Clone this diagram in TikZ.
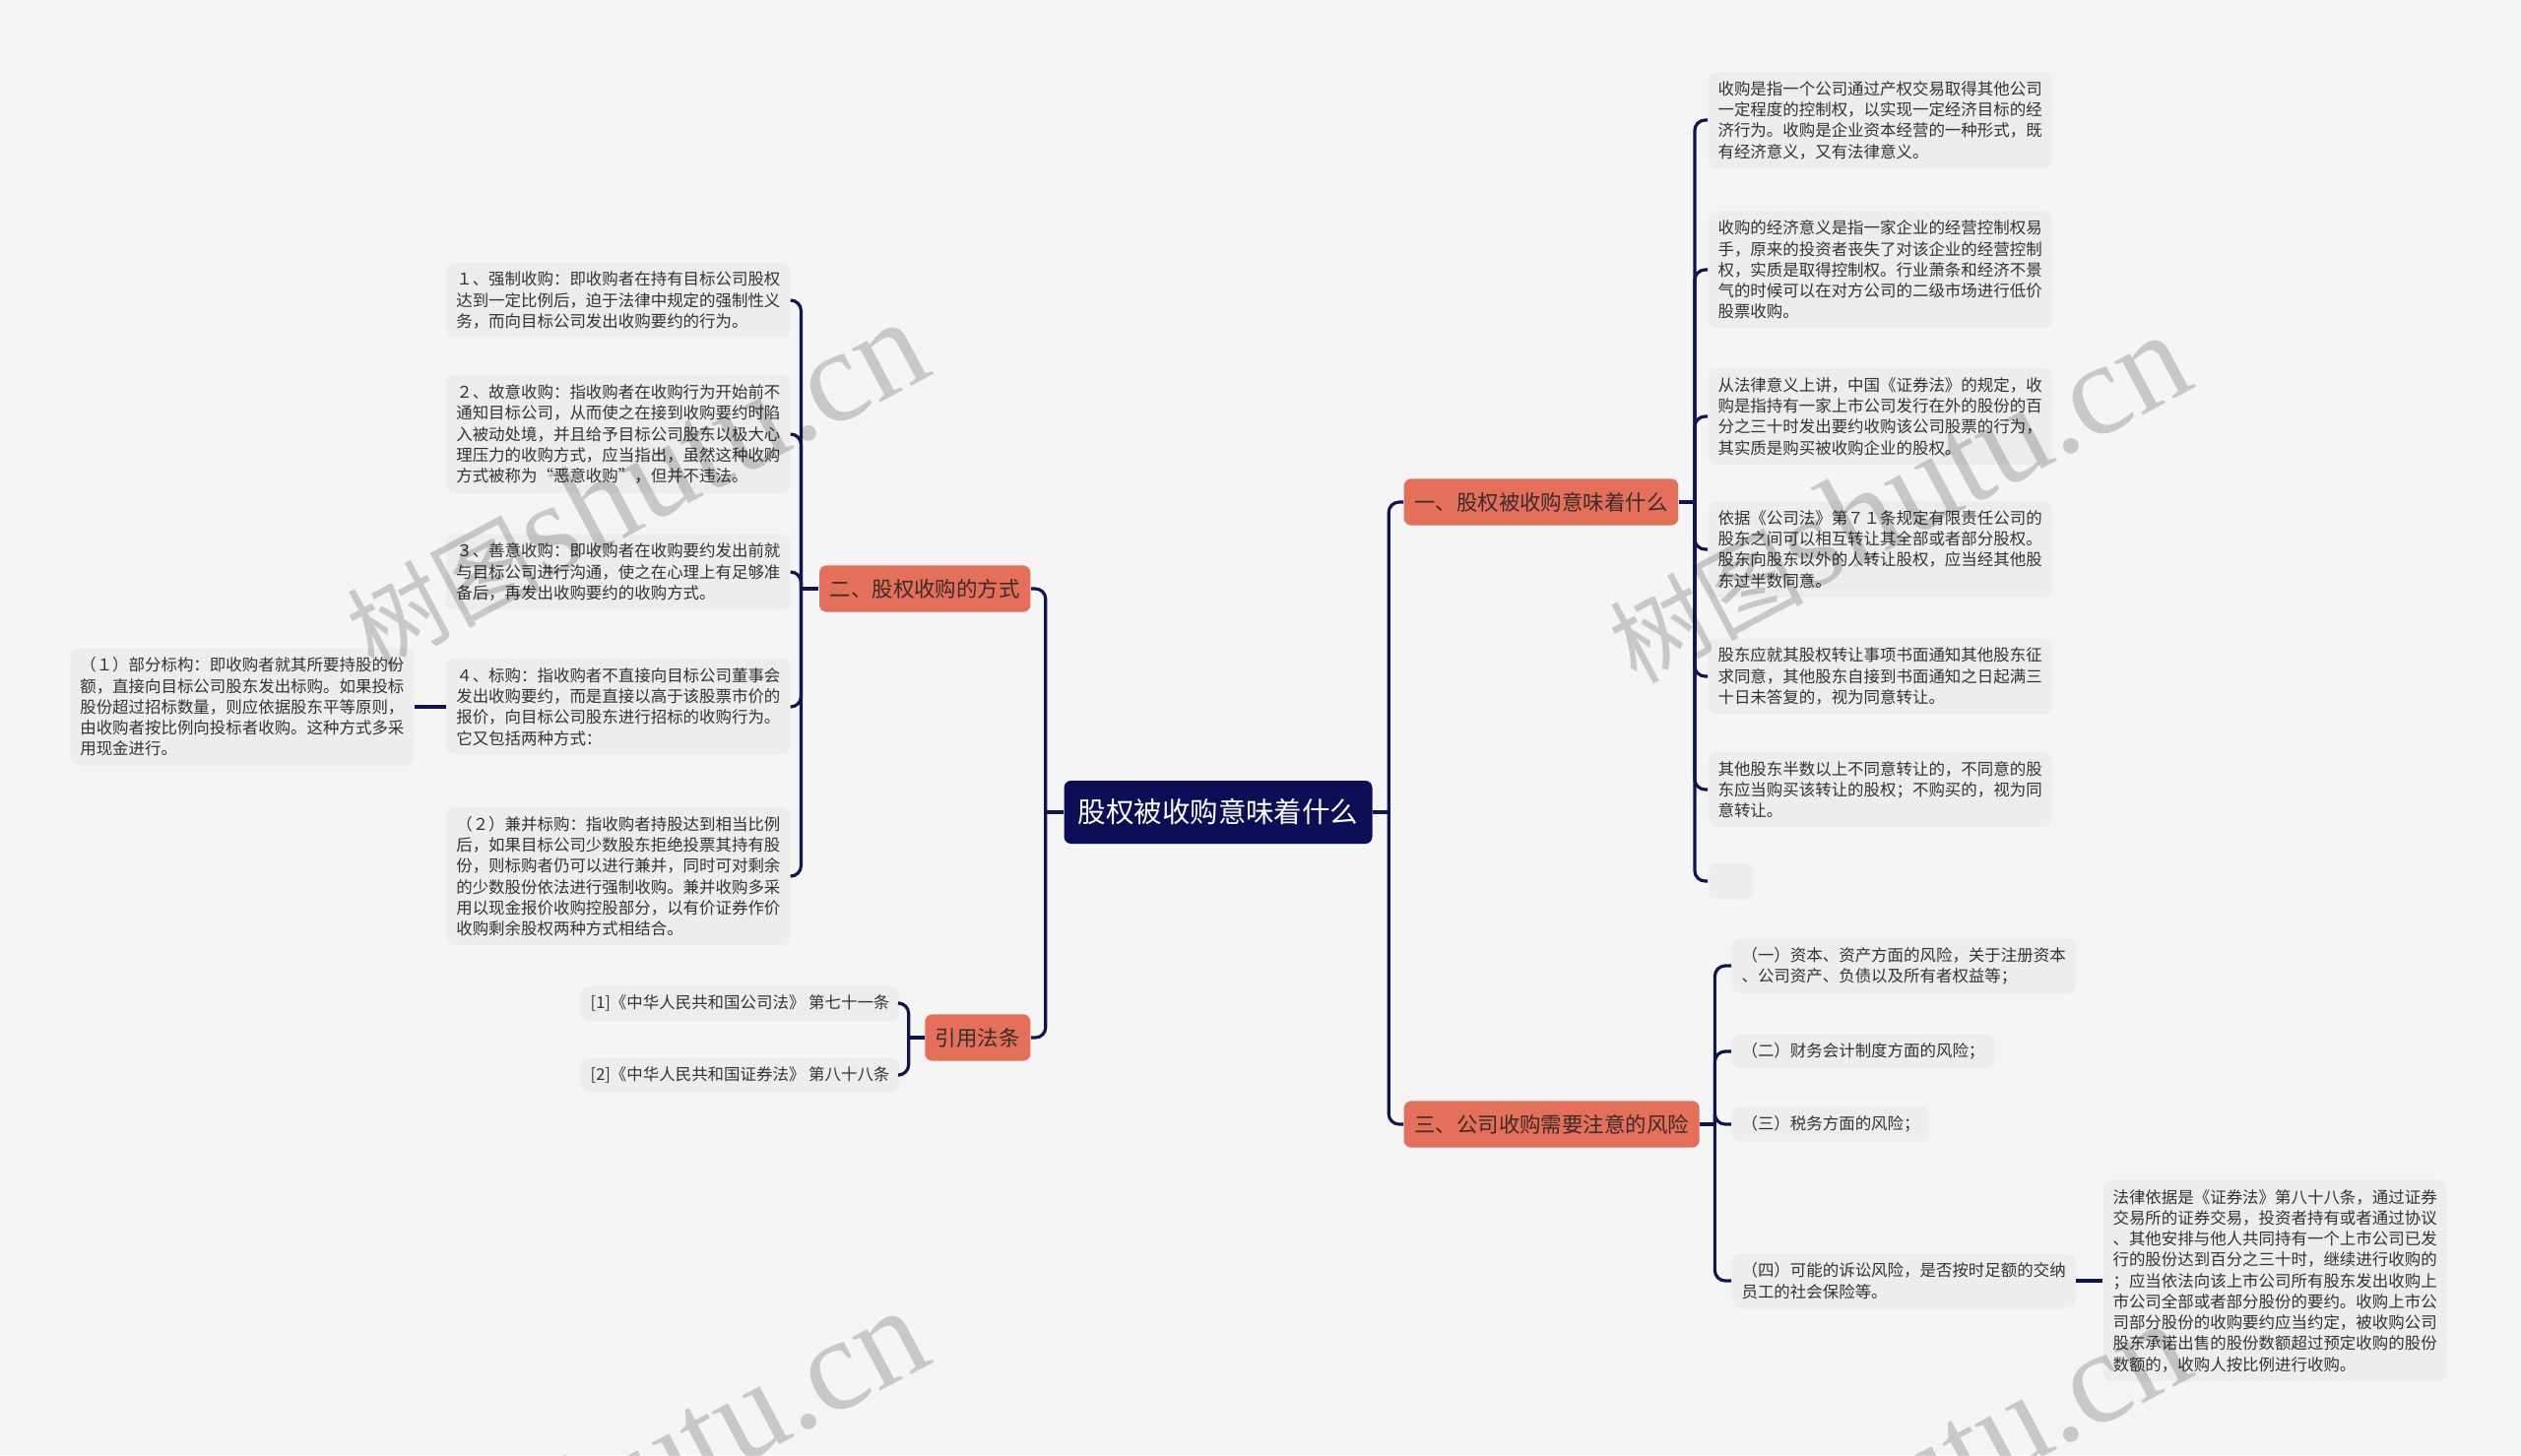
\documentclass[tikz,border=0pt]{standalone}
\usepackage{fontspec}
\setmainfont{Noto Sans CJK SC}
\newfontfamily\wmlatin{Liberation Serif}
\usepackage{tikz}
\usetikzlibrary{calc}
\usepackage{xcolor}
\definecolor{bggray}{HTML}{F5F5F5}
\definecolor{leafgray}{HTML}{EDEDED}
\definecolor{rootblue}{HTML}{0B0E56}
\definecolor{coral}{HTML}{E4705B}
\definecolor{linknavy}{HTML}{10154F}
\definecolor{leaftext}{HTML}{333333}
\definecolor{branchtext}{HTML}{3B2B2B}

\begin{document}
\begin{tikzpicture}[x=0.01cm, y=-0.01cm,
    rootnode/.style={fill=rootblue, text=white, rounded corners=2pt, inner xsep=4pt, minimum height=18.2pt, font=\fontsize{8.1}{9}\selectfont},
    branch/.style={fill=coral, text=branchtext, rounded corners=2pt, inner xsep=3pt, minimum height=13.4pt, font=\fontsize{6.1}{7}\selectfont},
    leaf/.style={fill=leafgray, text=leaftext, rounded corners=2.5pt, inner xsep=2.8pt, inner ysep=2.6pt, align=left, font=\fontsize{4.68}{6.05}\selectfont},
    link/.style={draw=linknavy, line width=0.9pt, rounded corners=3pt},
    wmark/.style={text=black, opacity=0.18, rotate=28, inner sep=0pt}]

    % Canvas
    \useasboundingbox (0,0) rectangle (2560,1478);
    \fill[bggray] (0,0) rectangle (2560,1478);

    % Root and main branches
    \node[rootnode] (root) at (1237,825) {股权被收购意味着什么};
    \node[branch, anchor=east] (fangshi) at (1047,598) {二、股权收购的方式};
    \node[branch, anchor=east] (fatiao) at (1047,1054) {引用法条};
    \node[branch, anchor=west] (yiwei) at (1425,510) {一、股权被收购意味着什么};
    \node[branch, anchor=west] (fengxian) at (1425,1142) {三、公司收购需要注意的风险};

    \coordinate (lj) at ($(root.west)+(-18,0)$);
    \coordinate (rj) at ($(root.east)+(16,0)$);
    \draw[link] (lj) -- (root.west);
    \draw[link] (rj) -- (root.east);
    \draw[link] (fangshi.east) -| (lj);
    \draw[link] (fatiao.east) -| (lj);
    \draw[link] (yiwei.west) -| (rj);
    \draw[link] (fengxian.west) -| (rj);

    % Ways of acquisition (left)
    \coordinate (fsj) at ($(fangshi.west)+(-18,0)$);
    \draw[link] (fsj) -- (fangshi.west);
    \foreach \name/\y/\txt in {
      fs1/305/{１、强制收购：即收购者在持有目标公司股权\\达到一定比例后，迫于法律中规定的强制性义\\务，而向目标公司发出收购要约的行为。},
      fs2/441/{２、故意收购：指收购者在收购行为开始前不\\通知目标公司，从而使之在接到收购要约时陷\\入被动处境，并且给予目标公司股东以极大心\\理压力的收购方式，应当指出，虽然这种收购\\方式被称为“恶意收购”，但并不违法。},
      fs3/581/{３、善意收购：即收购者在收购要约发出前就\\与目标公司进行沟通，使之在心理上有足够准\\备后，再发出收购要约的收购方式。},
      fs4/718/{４、标购：指收购者不直接向目标公司董事会\\发出收购要约，而是直接以高于该股票市价的\\报价，向目标公司股东进行招标的收购行为。\\它又包括两种方式：},
      fs5/890/{（２）兼并标购：指收购者持股达到相当比例\\后，如果目标公司少数股东拒绝投票其持有股\\份，则标购者仍可以进行兼并，同时可对剩余\\的少数股份依法进行强制收购。兼并收购多采\\用以现金报价收购控股部分，以有价证券作价\\收购剩余股权两种方式相结合。}}
    {
      \node[leaf, anchor=east] (\name) at (803,\y) {\txt};
      \draw[link] (\name.east) -| (fsj);
    }
    \node[leaf, anchor=east] (fs4a) at (421,718) {（１）部分标构：即收购者就其所要持股的份\\额，直接向目标公司股东发出标购。如果投标\\股份超过招标数量，则应依据股东平等原则，\\由收购者按比例向投标者收购。这种方式多采\\用现金进行。};
    \draw[link] (fs4.west) -- (fs4a.east);

    % Cited articles
    \coordinate (ftj) at ($(fatiao.west)+(-16,0)$);
    \draw[link] (ftj) -- (fatiao.west);
    \foreach \name/\y/\txt in {
      ft1/1019/{[1]《中华人民共和国公司法》 第七十一条},
      ft2/1092/{[2]《中华人民共和国证券法》 第八十八条}}
    {
      \node[leaf, anchor=east] (\name) at (914,\y) {\txt};
      \draw[link] (\name.east) -| (ftj);
    }

    % Meaning (right top)
    \coordinate (ywj) at ($(yiwei.east)+(16,0)$);
    \draw[link] (yiwei.east) -- (ywj);
    \foreach \name/\y/\txt in {
      yw1/122/{收购是指一个公司通过产权交易取得其他公司\\一定程度的控制权，以实现一定经济目标的经\\济行为。收购是企业资本经营的一种形式，既\\有经济意义，又有法律意义。},
      yw2/274/{收购的经济意义是指一家企业的经营控制权易\\手，原来的投资者丧失了对该企业的经营控制\\权，实质是取得控制权。行业萧条和经济不景\\气的时候可以在对方公司的二级市场进行低价\\股票收购。},
      yw3/423/{从法律意义上讲，中国《证券法》的规定，收\\购是指持有一家上市公司发行在外的股份的百\\分之三十时发出要约收购该公司股票的行为，\\其实质是购买被收购企业的股权。},
      yw4/558/{依据《公司法》第７１条规定有限责任公司的\\股东之间可以相互转让其全部或者部分股权。\\股东向股东以外的人转让股权，应当经其他股\\东过半数同意。},
      yw5/687/{股东应就其股权转让事项书面通知其他股东征\\求同意，其他股东自接到书面通知之日起满三\\十日未答复的，视为同意转让。},
      yw6/802/{其他股东半数以上不同意转让的，不同意的股\\东应当购买该转让的股权；不购买的，视为同\\意转让。}}
    {
      \node[leaf, anchor=west] (\name) at (1734,\y) {\txt};
      \draw[link] (\name.west) -| (ywj);
    }
    \node[leaf, anchor=west, minimum width=13pt, minimum height=10.2pt] (yw7) at (1734,895) {};
    \draw[link] (yw7.west) -| (ywj);

    % Risks (right bottom)
    \coordinate (fxj) at ($(fengxian.east)+(15,0)$);
    \draw[link] (fengxian.east) -- (fxj);
    \foreach \name/\y/\txt in {
      fx1/981/{（一）资本、资产方面的风险，关于注册资本\\、公司资产、负债以及所有者权益等；},
      fx2/1068/{（二）财务会计制度方面的风险；},
      fx3/1142/{（三）税务方面的风险；},
      fx4/1301/{（四）可能的诉讼风险，是否按时足额的交纳\\员工的社会保险等。}}
    {
      \node[leaf, anchor=west] (\name) at (1758,\y) {\txt};
      \draw[link] (\name.west) -| (fxj);
    }
    \node[leaf, anchor=west] (fx4a) at (2135,1301) {法律依据是《证券法》第八十八条，通过证券\\交易所的证券交易，投资者持有或者通过协议\\、其他安排与他人共同持有一个上市公司已发\\行的股份达到百分之三十时，继续进行收购的\\；应当依法向该上市公司所有股东发出收购上\\市公司全部或者部分股份的要约。收购上市公\\司部分股份的收购要约应当约定，被收购公司\\股东承诺出售的股份数额超过预定收购的股份\\数额的，收购人按比例进行收购。};
    \draw[link] (fx4.east) -- (fx4a.west);

    % Watermarks
    \begin{scope}
      \clip (0,0) rectangle (2560,1478);
      \foreach \wx/\wy [count=\i] in {645/493, 1927/506, 645/1497, 1927/1510}
        \node[wmark] (wm\i) at (\wx,\wy) {\fontsize{28}{30}\selectfont 树图\wmlatin\fontsize{38}{40}\selectfont shutu.cn};
    \end{scope}
\end{tikzpicture}
\end{document}
